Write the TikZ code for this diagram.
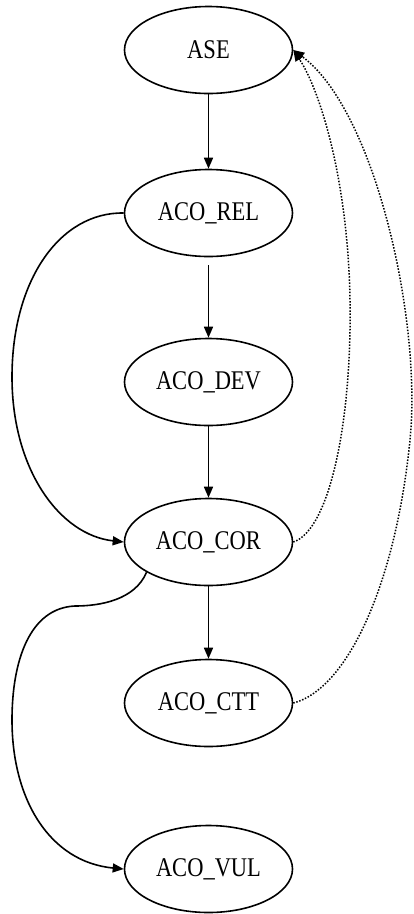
\documentclass[tikz,border=0pt]{standalone}
\usepackage{fontspec}
\usepackage{graphicx}
\setmainfont{Liberation Serif}
\usetikzlibrary{arrows.meta,shapes.geometric}
\newcommand{\lbl}[1]{\scalebox{1}[1.2]{#1}}
\begin{document}
\begin{tikzpicture}[x=1pt,y=-1pt,
  state/.style={ellipse,draw,line width=1.6pt,minimum width=168pt,minimum height=87pt,inner sep=0pt,font=\fontsize{22.5}{26}\selectfont},
  edge/.style={line width=1.6pt,-{Triangle[length=11pt,width=9pt]}},
  dotedge/.style={edge,line width=1.5pt,dash pattern=on 1.5pt off 1.6pt}]
\useasboundingbox (0,0) rectangle (414,914);
\clip (0,0) rectangle (414,914);
\node[state] (ASE) at (208.5,50) {\lbl{ASE}};
\node[state] (REL) at (208.5,213) {\lbl{ACO\_REL}};
\node[state] (DEV) at (208.5,382) {\lbl{ACO\_DEV}};
\node[state] (COR) at (208.5,542) {\lbl{ACO\_COR}};
\node[state] (CTT) at (208.5,703) {\lbl{ACO\_CTT}};
\node[state] (VUL) at (208.5,869) {\lbl{ACO\_VUL}};
\coordinate (l1) at (12,377);
\coordinate (l2a) at (75,606);
\coordinate (l2b) at (12,720);
\coordinate (r1) at (350,300);
\coordinate (r2) at (410,440);
\draw[edge] (ASE) -- (REL);
\draw[edge,shorten <=8pt] (REL) -- (DEV);
\draw[edge] (DEV) -- (COR);
\draw[edge] (COR) -- (CTT);
\draw[edge] (REL.west) .. controls (60,212) and (12,280) .. (l1)
  .. controls (12,470) and (60,535) .. (COR.west);
\draw[edge] (COR.-154) .. controls (135,600) and (100,606) .. (l2a)
  .. controls (30,608) and (12,660) .. (l2b)
  .. controls (12,800) and (50,862) .. (VUL.west);
\draw[dotedge] (COR.east) .. controls (330,530) and (352,420) .. (r1)
  .. controls (348,180) and (320,90) .. (ASE.east);
\draw[dotedge] (CTT.east) .. controls (345,690) and (395,590) .. (r2)
  .. controls (422,320) and (375,110) .. (ASE.east);
\end{tikzpicture}
\end{document}
